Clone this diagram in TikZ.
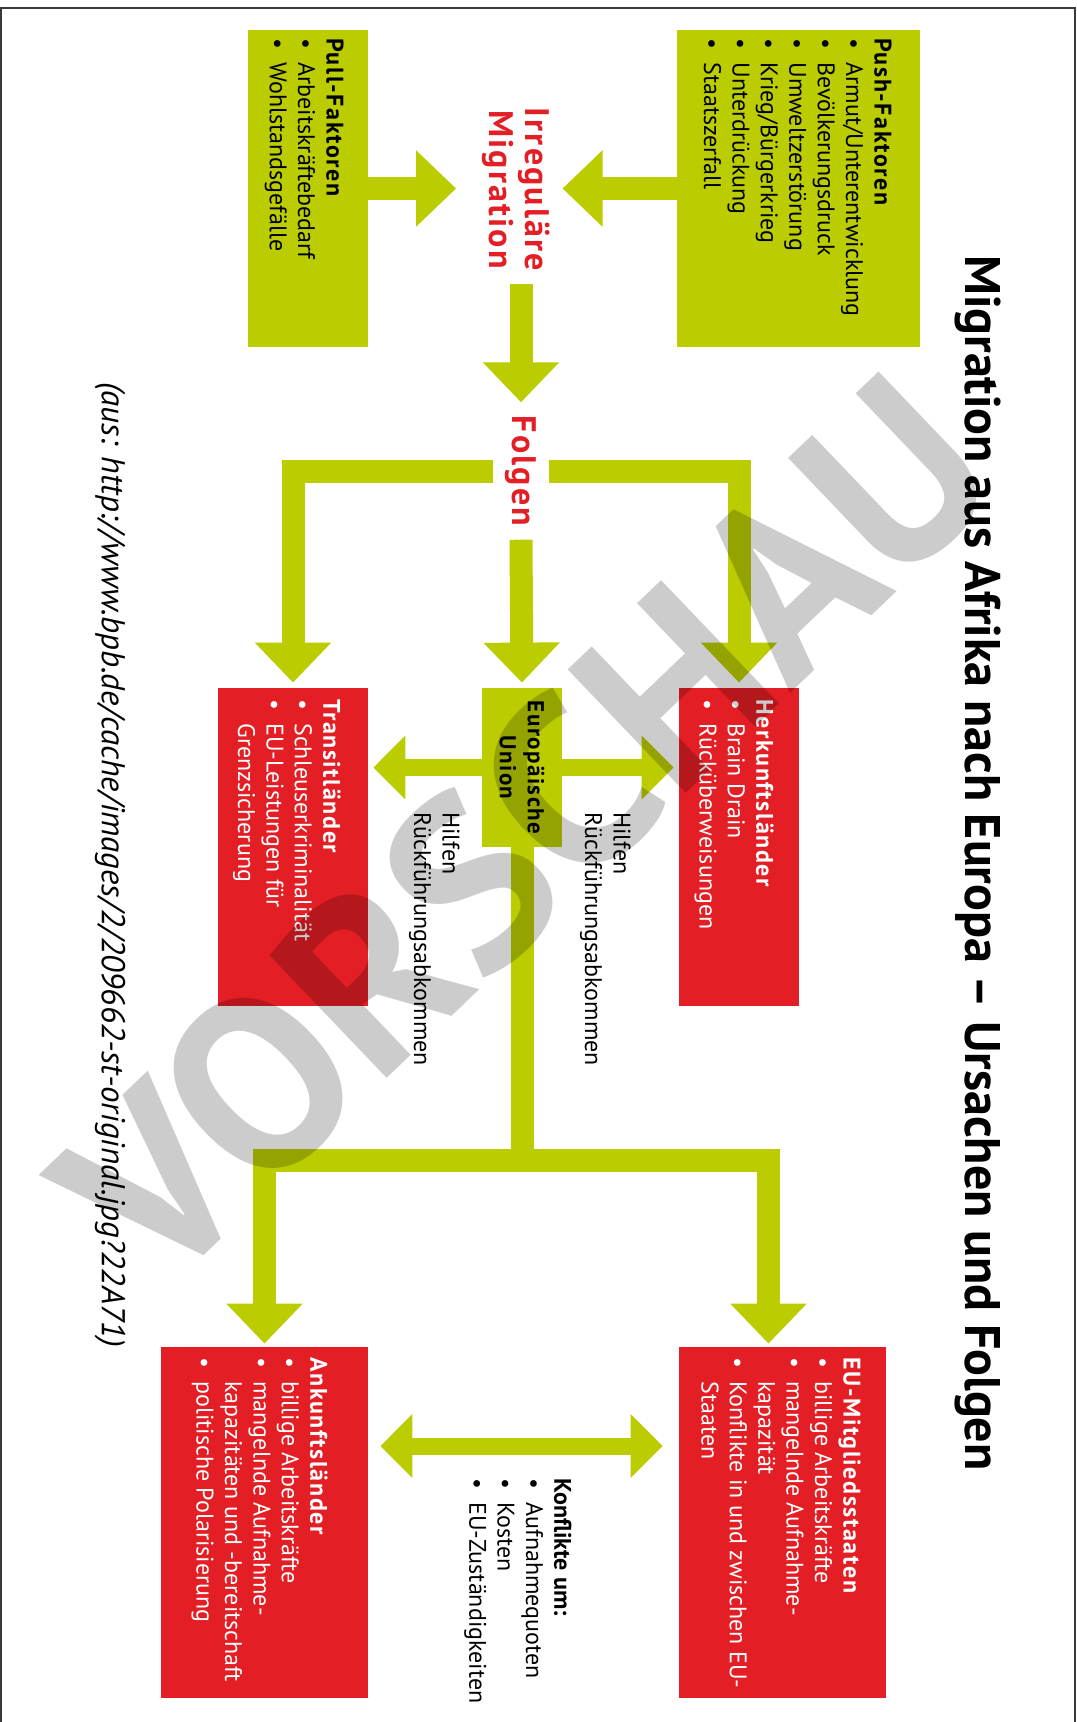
\documentclass[tikz,border=0pt]{standalone}
\usepackage{fontspec}
\setmainfont{PT Sans}
\newfontfamily\headfont{PT Sans}[LetterSpace=6.5]
\usetikzlibrary{arrows.meta}
\definecolor{limegr}{HTML}{BBCC00}
\definecolor{boxred}{HTML}{E31E24}
\definecolor{framegr}{HTML}{3A3A3A}
\newcommand{\bul}{\makebox[12pt][l]{\textbullet}}
\newcommand{\ind}{\hspace*{12pt}}
\newcommand{\hd}[1]{{\headfont\bfseries #1}}

\begin{document}
\begin{tikzpicture}[
  x=0.5pt, y=0.5pt, rotate=-90, transform shape,
  font=\fontsize{12}{14.2}\selectfont,
  greenbox/.style={fill=limegr,inner sep=0pt},
  redbox/.style={fill=boxred,inner sep=0pt},
  listtxt/.style={anchor=north west,align=left,inner sep=0pt},
  headtxt/.style={text=boxred,font=\fontsize{17}{18.25}\selectfont\headfont\bfseries,align=center},
  fat/.style={draw=limegr,line width=11.5pt,-{Triangle[width=37pt,length=20pt]}},
  oneway/.style={draw=limegr,line width=8.5pt,-{Triangle[width=31pt,length=16pt]}},
  twoway/.style={draw=limegr,line width=8.5pt,{Triangle[width=31pt,length=16pt]}-{Triangle[width=31pt,length=16pt]}},
]
\useasboundingbox (0,0) rectangle (1722,1076);
\draw[framegr,line width=1pt] (1722,1) -- (8,1) -- (8,1075) -- (1722,1075);

\node[font=\fontsize{25}{27}\selectfont\bfseries] (title) at (863,978)
  {Migration aus Afrika nach Europa – Ursachen und Folgen};

% causes
\node[greenbox,minimum width=158.5pt,minimum height=121.5pt] (push) at (188.5,798.5) {};
\node[greenbox,minimum width=158.5pt,minimum height=60pt] (pull) at (188.5,308) {};
\node[listtxt] (pushtxt) at (38,892)
  {\hd{Push-Faktoren}\\\bul Armut/Unterentwicklung\\\bul Bevölkerungsdruck\\
   \bul Umweltzerstörung\\\bul Krieg/Bürgerkrieg\\\bul Unterdrückung\\\bul Staatszerfall};
\node[listtxt] (pulltxt) at (38,344)
  {\hd{Pull-Faktoren}\\\bul Arbeitskräftebedarf\\\bul Wohlstandsgefälle};
\node[headtxt,inner xsep=6.5pt,inner ysep=6pt] (migr) at (189.5,516) {Irreguläre\\Migration};
\node[headtxt,inner xsep=6.5pt,inner ysep=6pt] (folgen) at (471,521) {Folgen};

% consequences
\node[redbox,minimum width=159pt,minimum height=60pt] (herk) at (847,739) {};
\node[greenbox,minimum width=79.5pt,minimum height=40pt,align=center,
      font=\fontsize{11.5}{14}\selectfont\headfont\bfseries] (eu) at (767.5,522) {Europäische\\Union};
\node[redbox,minimum width=159pt,minimum height=75pt] (trans) at (847,293) {};
\node[listtxt,text=white] (herktxt) at (699,774)
  {\hd{Herkunftsländer}\\\bul Brain Drain\\\bul Rücküberweisungen};
\node[listtxt,text=white] (transtxt) at (699,341)
  {\hd{Transitländer}\\\bul Schleuserkriminalität\\\bul EU-Leistungen für\\\ind Grenzsicherung};
\node[listtxt] (hilfeA) at (812,631) {Hilfen\\Rückführungsabkommen};
\node[listtxt] (hilfeB) at (812,460) {Hilfen\\Rückführungsabkommen};

\node[redbox,minimum width=175.5pt,minimum height=103.5pt] (eumit) at (1522.5,782.5) {};
\node[redbox,minimum width=175.5pt,minimum height=103.5pt] (ank) at (1522.5,264.5) {};
\node[listtxt,text=white] (eumittxt) at (1357,861)
  {\hd{EU-Mitgliedsstaaten}\\\bul billige Arbeitskräfte\\\bul mangelnde Aufnahme-\\
   \ind kapazität\\\bul Konflikte in und zwischen EU-\\\ind Staaten};
\node[listtxt,text=white] (anktxt) at (1357,328)
  {\hd{Ankunftsländer}\\\bul billige Arbeitskräfte\\\bul mangelnde Aufnahme-\\
   \ind kapazitäten und -bereitschaft\\\bul politische Polarisierung};
\node[listtxt] (konf) at (1478,572)
  {\textbf{Konflikte um:}\\\bul Aufnahmequoten\\\bul Kosten\\\bul EU-Zuständigkeiten};

\node[font=\fontsize{16.5}{18}\selectfont\itshape] (quelle) at (865,110)
  {(aus: http://www.bpb.de/cache/images/2/209662-st-original.jpg?22A71)};

% connectors
\coordinate (jn) at (1160.5,522);
\coordinate (dbl) at (1446,522);
\draw[fat] (push.south) -- (push.south |- migr.north);
\draw[fat,shorten >=6.7pt] (pull.north) -- (pull.north |- migr.south);
\draw[fat] (migr.east |- folgen.west) -- (folgen.west);
\draw[fat,shorten >=2.5pt] (folgen.north) |- (herk.west);
\draw[fat,shorten >=2.5pt] (folgen.south) |- (trans.west);
\draw[fat,shorten >=2.5pt] (folgen.east) -- (eu.west);
\draw[oneway,shorten >=2.5pt] (eu.north) -- (eu.north |- herk.south);
\draw[oneway,shorten >=2.5pt] (eu.south) -- (eu.south |- trans.north);
\draw[fat,shorten >=1.5pt] (eu.east) -- (jn) |- ([yshift=-7pt]eumit.west);
\draw[fat,shorten >=1.5pt] (eu.east) -- (jn) |- (ank.west);
\draw[twoway,shorten <=6pt,shorten >=8pt] (dbl |- ank.north) -- (dbl |- eumit.south);

\node[rotate=133.7,font=\fontsize{122}{122}\selectfont\bfseries,
      text=black,text opacity=0.2] (vorschau) at (830,524) {VORSCHAU};
\end{tikzpicture}
\end{document}
